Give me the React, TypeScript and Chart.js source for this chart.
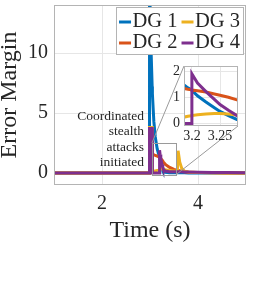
import React, { useEffect, useRef } from "react";
import { Chart, registerables } from "chart.js";

Chart.register(...registerables);

// ---------------- data ----------------
const TIME = [1.0, 2.985, 2.99, 3.02, 3.045, 3.05, 3.08, 3.11, 3.15, 3.186, 3.193, 3.199, 3.2, 3.21, 3.225, 3.24, 3.25, 3.265, 3.28, 3.32, 3.4, 3.5, 3.57, 3.585, 3.62, 3.66, 3.72, 3.8, 4.0, 4.3, 4.6, 5.0];
const DG1 = [0, 0, 16, 10.5, 7.2, 6.6, 4.3, 3.0, 2.0, 1.47, 1.36, 1.29, 1.27, 1.06, 0.82, 0.6, 0.46, 0.3, 0.15, 0.06, 0.03, 0.02, 0.02, 0.02, 0.02, 0.02, 0.02, 0.01, 0.01, 0, 0, 0];
const DG2 = [0, 0, 3.6, 3.6, 3.6, 1.6, 1.52, 1.46, 1.4, 1.34, 1.31, 1.29, 1.28, 1.25, 1.2, 1.13, 1.08, 1.0, 0.9, 0.72, 0.48, 0.3, 0.22, 0.2, 0.18, 0.15, 0.1, 0.07, 0.04, 0.02, 0.01, 0];
const DG3 = [0, 0, 3.8, 3.8, 3.8, 0.1, 0.15, 0.18, 0.22, 0.24, 0.27, 0.29, 0.3, 0.33, 0.36, 0.38, 0.38, 0.36, 0.32, 0.27, 0.2, 0.17, 0.15, 1.85, 0.9, 0.4, 0.15, 0.08, 0.04, 0.02, 0.01, 0];
const DG4 = [0, 0, 3.7, 3.7, 3.7, 0, 0, 0, 0, 0, 0, 0, 1.9, 1.55, 1.22, 0.92, 0.72, 0.5, 0.3, 0.16, 0.1, 0.1, 0.1, 0.1, 0.1, 0.1, 0.08, 0.08, 0.06, 0.05, 0.04, 0.03];

const SERIES = [DG1, DG2, DG3, DG4];
const SERIES_LABELS = ["DG 1", "DG 2", "DG 3", "DG 4"];
const SERIES_COLORS = ["#0072BD", "#D95319", "#EDB120", "#7E2F8E"];
const LEGEND_COLUMNS = [[0, 1], [2, 3]];

const X_TICKS = [2, 4];
const Y_TICKS = [0, 5, 10];
const X_RANGE = [1, 5];
const Y_RANGE = [-1, 14];

const INSET_X_TICKS = [3.2, 3.25];
const INSET_X_TICK_LABELS = ["3.2", "3.25"];
const INSET_Y_TICKS = [0, 1, 2];
const INSET_X_RANGE = [3.186, 3.282];
const INSET_Y_RANGE = [-0.1, 2.2];

const ZOOM_BOX_X = [3.04, 3.54];
const ZOOM_BOX_Y = [-0.15, 2.5];

const ANNOTATION_LINES = ["Coordinated", "stealth", "attacks", "initiated"];
const ANNOTATION_AT = { x: 2.875, y: 4.7 };

const X_TITLE = "Time (s)";
const Y_TITLE = "Error Margin";

// ---------------- layout / style ----------------
const W = 269;
const H = 290;
const SERIF = "\"Liberation Serif\", \"Times New Roman\", Times, serif";
const TEXT = "#262626";
const GRID = "#e6e6e6";
const BOX = "#b4b4b4";
const ZOOM_LINE = "#9a9a9a";
const INSET_CANVAS = { left: 160, top: 56, width: 90, height: 92 };
const INSET_AREA = { left: 184, top: 66, right: 238, bottom: 126 };

function makeDatasets(clip?: number) {
  return SERIES.map((vals, i) => ({
    label: SERIES_LABELS[i],
    data: TIME.map((t, j) => ({ x: t, y: vals[j] })),
    borderColor: SERIES_COLORS[i],
    backgroundColor: SERIES_COLORS[i],
    borderWidth: 3,
    pointRadius: 0,
    tension: 0,
    fill: false,
    order: SERIES.length - 1 - i,
    ...(clip !== undefined ? { clip } : {}),
  }));
}

const mainDecor = {
  id: "mainDecor",
  afterDatasetsDraw(chart: any) {
    const { ctx, chartArea: a, scales } = chart;
    const x = scales.x;
    const y = scales.y;
    ctx.save();
    ctx.strokeStyle = BOX;
    ctx.lineWidth = 1;
    ctx.strokeRect(Math.round(a.left) + 0.5, Math.round(a.top) + 0.5, Math.round(a.right - a.left) - 1, Math.round(a.bottom - a.top) - 1);
    const bx0 = x.getPixelForValue(ZOOM_BOX_X[0]);
    const bx1 = x.getPixelForValue(ZOOM_BOX_X[1]);
    const byTop = y.getPixelForValue(ZOOM_BOX_Y[1]);
    const byBot = y.getPixelForValue(ZOOM_BOX_Y[0]);
    ctx.strokeStyle = ZOOM_LINE;
    ctx.lineWidth = 1;
    ctx.strokeRect(Math.round(bx0) + 0.5, Math.round(byTop) + 0.5, Math.round(bx1 - bx0), Math.round(byBot - byTop));
    ctx.beginPath();
    ctx.moveTo(bx0, byTop);
    ctx.lineTo(INSET_AREA.left, INSET_AREA.top);
    ctx.moveTo(bx1, byBot);
    ctx.lineTo(INSET_AREA.right, INSET_AREA.bottom);
    ctx.stroke();
    ctx.fillStyle = TEXT;
    ctx.font = `13.5px ${SERIF}`;
    ctx.textAlign = "right";
    ctx.textBaseline = "middle";
    const ax = x.getPixelForValue(ANNOTATION_AT.x);
    const ay = y.getPixelForValue(ANNOTATION_AT.y);
    ANNOTATION_LINES.forEach((s, i) => ctx.fillText(s, ax, ay + i * 15.3));
    ctx.font = `20.5px ${SERIF}`;
    const PAD = 3, SAMPLE = 12, GAP = 1.5, COLGAP = 4, ROWH = 21;
    const colW = LEGEND_COLUMNS.map((c) => SAMPLE + GAP + Math.max(...c.map((i) => ctx.measureText(SERIES_LABELS[i]).width)));
    const boxW = PAD + colW[0] + COLGAP + colW[1] + PAD;
    const boxRight = a.right - 3;
    const boxLeft = boxRight - boxW;
    const boxTop = a.top + 2;
    const boxH = 47;
    ctx.fillStyle = "#ffffff";
    ctx.fillRect(boxLeft, boxTop, boxW, boxH);
    ctx.strokeStyle = BOX;
    ctx.lineWidth = 1;
    ctx.strokeRect(Math.round(boxLeft) + 0.5, Math.round(boxTop) + 0.5, Math.round(boxW), boxH);
    ctx.textAlign = "left";
    LEGEND_COLUMNS.forEach((col, c) => {
      col.forEach((i, r) => {
        const sx = boxLeft + PAD + (c === 0 ? 0 : colW[0] + COLGAP);
        const sy = boxTop + 15 + r * ROWH;
        ctx.strokeStyle = SERIES_COLORS[i];
        ctx.lineWidth = 3;
        ctx.beginPath();
        ctx.moveTo(sx, sy);
        ctx.lineTo(sx + SAMPLE, sy);
        ctx.stroke();
        ctx.fillStyle = TEXT;
        ctx.fillText(SERIES_LABELS[i], sx + SAMPLE + GAP, sy);
      });
    });
    ctx.restore();
  },
};

const insetDecor = {
  id: "insetDecor",
  beforeDraw(chart: any) {
    const { ctx, chartArea: a } = chart;
    ctx.save();
    ctx.fillStyle = "#ffffff";
    ctx.fillRect(a.left, a.top, a.right - a.left, a.bottom - a.top);
    ctx.restore();
  },
  afterDatasetsDraw(chart: any) {
    const { ctx, chartArea: a } = chart;
    ctx.save();
    ctx.strokeStyle = BOX;
    ctx.lineWidth = 1;
    ctx.strokeRect(Math.round(a.left) + 0.5, Math.round(a.top) + 0.5, Math.round(a.right - a.left) - 1, Math.round(a.bottom - a.top) - 1);
    ctx.restore();
  },
};

function setTicks(values: number[]) {
  return (s: any) => {
    s.ticks = values.map((v) => ({ value: v }));
  };
}

export default function App() {
  const mainRef = useRef<HTMLCanvasElement>(null);
  const insetRef = useRef<HTMLCanvasElement>(null);

  useEffect(() => {
    if (!mainRef.current || !insetRef.current) return;
    const main = new Chart(mainRef.current, {
      type: "line",
      data: { datasets: makeDatasets() as any },
      options: {
        animation: false,
        responsive: false,
        devicePixelRatio: 1,
        events: [],
        layout: { padding: { left: 0, top: 5, right: W - 246, bottom: 45 } },
        plugins: { legend: { display: false }, tooltip: { enabled: false } },
        scales: {
          x: {
            type: "linear",
            min: X_RANGE[0],
            max: X_RANGE[1],
            afterBuildTicks: setTicks(X_TICKS),
            afterFit: (s: any) => {
              s.height = 60;
              s.paddingLeft = 0;
              s.paddingRight = 0;
            },
            grid: { color: GRID, lineWidth: 1, drawTicks: false },
            border: { display: false },
            ticks: { autoSkip: false, maxRotation: 0, padding: 7, color: TEXT, font: { family: SERIF, size: 20 } },
            title: { display: true, text: X_TITLE, color: TEXT, padding: 0, font: { family: SERIF, size: 24, lineHeight: 1.2 } },
          },
          y: {
            type: "linear",
            min: Y_RANGE[0],
            max: Y_RANGE[1],
            afterBuildTicks: setTicks(Y_TICKS),
            afterFit: (s: any) => {
              s.width = 54;
              s.paddingTop = 0;
              s.paddingBottom = 0;
            },
            grid: { color: GRID, lineWidth: 1, drawTicks: false },
            border: { display: false },
            ticks: { autoSkip: false, padding: 6, color: TEXT, font: { family: SERIF, size: 20 } },
            title: { display: true, text: Y_TITLE, color: TEXT, padding: 0, font: { family: SERIF, size: 24, lineHeight: 0.8 } },
          },
        },
      } as any,
      plugins: [mainDecor],
    });

    const insetW = INSET_CANVAS.width;
    const insetH = INSET_CANVAS.height;
    const inset = new Chart(insetRef.current, {
      type: "line",
      data: { datasets: makeDatasets(0) as any },
      options: {
        animation: false,
        responsive: false,
        devicePixelRatio: 1,
        events: [],
        layout: {
          padding: {
            left: 0,
            top: INSET_AREA.top - INSET_CANVAS.top,
            right: insetW - (INSET_AREA.right - INSET_CANVAS.left),
            bottom: insetH - (INSET_AREA.bottom - INSET_CANVAS.top) - 20,
          },
        },
        plugins: { legend: { display: false }, tooltip: { enabled: false } },
        scales: {
          x: {
            type: "linear",
            min: INSET_X_RANGE[0],
            max: INSET_X_RANGE[1],
            afterBuildTicks: setTicks(INSET_X_TICKS),
            afterFit: (s: any) => {
              s.height = 20;
              s.paddingLeft = 0;
              s.paddingRight = 0;
            },
            grid: { color: GRID, lineWidth: 1, drawTicks: false },
            border: { display: false },
            ticks: {
              autoSkip: false,
              maxRotation: 0,
              padding: 2,
              color: TEXT,
              font: { family: SERIF, size: 14 },
              callback: (_v: any, idx: number) => INSET_X_TICK_LABELS[idx],
            },
          },
          y: {
            type: "linear",
            min: INSET_Y_RANGE[0],
            max: INSET_Y_RANGE[1],
            afterBuildTicks: setTicks(INSET_Y_TICKS),
            afterFit: (s: any) => {
              s.width = INSET_AREA.left - INSET_CANVAS.left;
              s.paddingTop = 0;
              s.paddingBottom = 0;
            },
            grid: { color: GRID, lineWidth: 1, drawTicks: false },
            border: { display: false },
            ticks: { autoSkip: false, padding: 4, color: TEXT, font: { family: SERIF, size: 14 } },
          },
        },
      } as any,
      plugins: [insetDecor],
    });

    return () => {
      main.destroy();
      inset.destroy();
    };
  }, []);

  return (
    <div style={{ position: "fixed", left: 0, top: 0, width: W, height: H, background: "#ffffff" }}>
      <canvas ref={mainRef} width={W} height={H} style={{ position: "absolute", left: 0, top: 0, width: W, height: H }} />
      <canvas
        ref={insetRef}
        width={INSET_CANVAS.width}
        height={INSET_CANVAS.height}
        style={{ position: "absolute", left: INSET_CANVAS.left, top: INSET_CANVAS.top, width: INSET_CANVAS.width, height: INSET_CANVAS.height }}
      />
    </div>
  );
}
